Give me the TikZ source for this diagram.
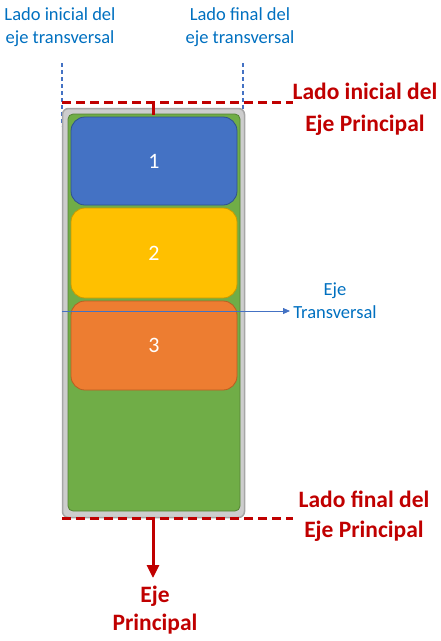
\documentclass[tikz,border=0pt]{standalone}
\usepackage{fontspec}
\setmainfont{Carlito}
\usetikzlibrary{arrows.meta}
\definecolor{axred}{HTML}{C00000}
\definecolor{txblue}{HTML}{0070C0}
\definecolor{lnblue}{HTML}{4472C4}
\definecolor{gfill}{HTML}{CDCDCD}
\definecolor{gdraw}{HTML}{A6A6A6}
\definecolor{grfill}{HTML}{70AD47}
\definecolor{grdraw}{HTML}{548235}
\definecolor{bfill}{HTML}{4472C4}
\definecolor{bdraw}{HTML}{2F528F}
\definecolor{yfill}{HTML}{FFC000}
\definecolor{ydraw}{HTML}{C99A00}
\definecolor{ofill}{HTML}{ED7D31}
\definecolor{odraw}{HTML}{B85F22}
\tikzset{
  blocknode/.style={rounded corners=14pt, line width=0.8pt, minimum width=166pt, minimum height=88pt, text=white, font=\fontsize{22}{25}\selectfont, inner sep=0pt},
  bluetext/.style={text=txblue, align=center, font=\fontsize{18.5}{23}\selectfont, inner sep=0pt},
  redtext/.style={text=axred, align=center, font=\bfseries\fontsize{23.5}{30}\selectfont, inner sep=0pt},
  reddash/.style={draw=axred, line width=3pt, dash pattern=on 9pt off 5pt},
  bluedash/.style={draw=lnblue, line width=1.3pt, dash pattern=on 4pt off 3pt},
}
\begin{document}
\begin{tikzpicture}[x=1pt,y=-1pt]
\useasboundingbox (0,0) rectangle (441,641);
% blue dashed verticals
\coordinate (lt) at (62,63); \coordinate (lb) at (62,126);
\coordinate (rt) at (243,63); \coordinate (rb) at (243,126);
\draw[bluedash] (lt) -- (lb);
\draw[bluedash] (rt) -- (rb);
% red main axis
\coordinate (axtop) at (153,103);
\coordinate (axend) at (153,578);
\draw[axred, line width=3pt, -{Triangle[length=13pt,width=12pt]}] (axtop) -- (axend);
% outer gray
\node[draw=gdraw, fill=gfill, line width=1.5pt, rounded corners=6pt, minimum width=182pt, minimum height=409pt, inner sep=0pt] (outer) at (153.5,313) {};
% green
\node[draw=grdraw, fill=grfill, line width=0.8pt, rounded corners=5pt, minimum width=172pt, minimum height=397pt, inner sep=0pt] (green) at (154,312.5) {};
\draw[axred, line width=3pt] (axtop) -- (153,114.5);
% blocks
\node[blocknode, draw=bdraw, fill=bfill] (b1) at (154,161) {1};
\node[blocknode, draw=ydraw, fill=yfill, minimum height=90pt] (b2) at (154,253) {2};
\node[blocknode, draw=odraw, fill=ofill, minimum height=89pt] (b3) at (154,345.5) {3};
% transversal axis
\coordinate (tstart) at (62,311);
\coordinate (tend) at (290,311);
\node[bluetext] (etr) at (335,301) {Eje\\Transversal};
\draw[lnblue, line width=0.8pt, -{Triangle[length=7pt,width=6pt]}] (tstart) -- (tend);
% red dashed lines
\coordinate (d1a) at (62,102); \coordinate (d1b) at (293,102);
\coordinate (d2a) at (62,518); \coordinate (d2b) at (293,518);
\draw[reddash] (d1a) -- (d1b);
\draw[reddash] (d2a) -- (d2b);
% texts
\node[bluetext] (lit) at (60,27) {Lado inicial del\\eje transversal};
\node[bluetext] (lft) at (240,27) {Lado final del\\eje transversal};
\node[redtext, font=\bfseries\fontsize{23.5}{32}\selectfont] (lip) at (365,109) {Lado inicial del\\Eje Principal};
\node[redtext] (lfp) at (364,516) {Lado final del\\Eje Principal};
\node[redtext, font=\bfseries\fontsize{23.5}{28}\selectfont] (ep) at (155,610) {Eje\\Principal};
\end{tikzpicture}
\end{document}
